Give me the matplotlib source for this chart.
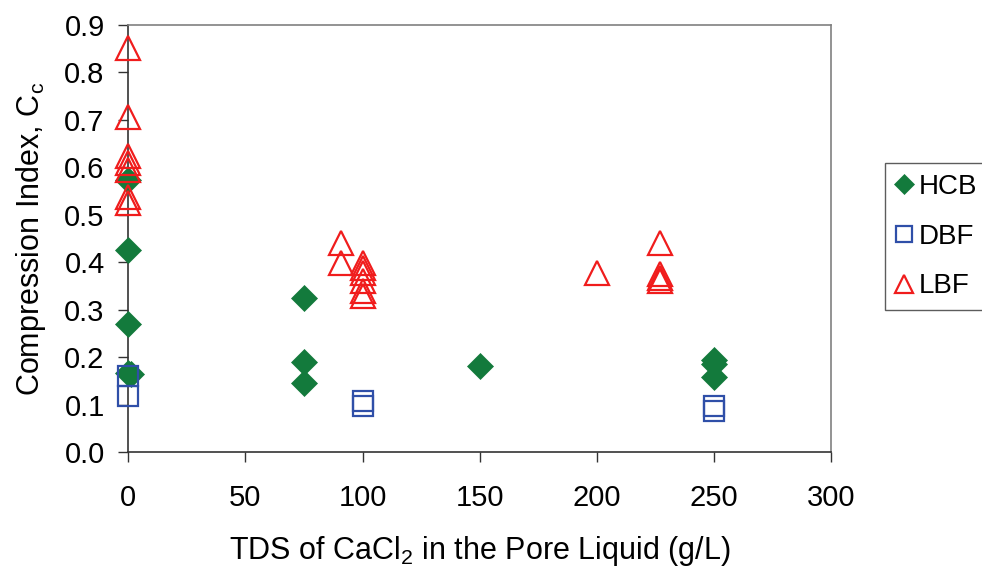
import matplotlib
matplotlib.use("Agg")
import matplotlib.pyplot as plt

plt.rcParams['font.family'] = ['Liberation Sans', 'DejaVu Sans']
plt.rcParams['mathtext.default'] = 'regular'

# HCB (filled diamonds)
hcb_x = [0, 0, 0, 0, 1, 75, 75, 75, 150, 250, 250, 250]
hcb_y = [0.574, 0.427, 0.271, 0.168, 0.165, 0.326, 0.191, 0.147, 0.181, 0.195, 0.185, 0.158]
# DBF (open squares)
dbf_x = [0, 0, 100, 100, 250, 250]
dbf_y = [0.160, 0.118, 0.108, 0.097, 0.097, 0.088]
# LBF (open triangles)
lbf_x = [0, 0, 0, 0, 0, 0, 0, 91, 91, 100, 100, 100, 100, 100, 100, 200, 227, 227, 227, 227]
lbf_y = [0.852, 0.706, 0.625, 0.610, 0.595, 0.538, 0.525, 0.440, 0.398,
         0.399, 0.389, 0.378, 0.361, 0.340, 0.330, 0.377, 0.440, 0.375, 0.368, 0.360]

x_ticks = [0, 50, 100, 150, 200, 250, 300]
y_ticks = [0.0, 0.1, 0.2, 0.3, 0.4, 0.5, 0.6, 0.7, 0.8, 0.9]

green = '#137a3c'
blue = '#2f4fa8'
red = '#f01c1c'

fig = plt.figure(figsize=(9.82, 5.72), dpi=100)
ax = fig.add_axes([128.3/982, 1-452.3/572, (831-128.3)/982, (452.3-25)/572])

ax.plot(hcb_x, hcb_y, linestyle='none', marker='D', markersize=13, color=green,
        markeredgecolor=green, markeredgewidth=0.5, label='HCB', zorder=3, clip_on=False)
ax.plot(dbf_x, dbf_y, linestyle='none', marker='s', markersize=14.5, markerfacecolor='none',
        markeredgecolor=blue, markeredgewidth=1.6, label='DBF', zorder=4, clip_on=False)
ax.plot(lbf_x, lbf_y, linestyle='none', marker='^', markersize=17, markerfacecolor='none',
        markeredgecolor=red, markeredgewidth=1.6, label='LBF', zorder=5, clip_on=False)

ax.set_xlim(0, 300)
ax.set_ylim(0, 0.9)
ax.set_xticks(x_ticks)
ax.set_yticks(y_ticks)
ax.set_yticklabels([f"{v:.1f}" for v in y_ticks])
ax.tick_params(axis='both', direction='out', length=7, width=1, labelsize=21, color='#333333')
ax.tick_params(axis='x', pad=16)
ax.tick_params(axis='y', pad=10)

for side in ['left', 'bottom']:
    ax.spines[side].set_color('#333333')
    ax.spines[side].set_linewidth(1.2)
for side in ['top', 'right']:
    ax.spines[side].set_color('#808080')
    ax.spines[side].set_linewidth(1.2)

ax.set_xlabel('TDS of CaCl$_2$ in the Pore Liquid (g/L)', fontsize=22, labelpad=16)
ax.set_ylabel('Compression Index, C$_c$', fontsize=22, labelpad=12)

leg = fig.legend(loc='upper left', bbox_to_anchor=(885/982, 1-163/572), fontsize=20,
                 frameon=True, fancybox=False, edgecolor='#333333', handlelength=0.6,
                 handletextpad=0.2, borderpad=0.4, labelspacing=0.85, borderaxespad=0,
                 markerscale=0.75)
leg.get_frame().set_linewidth(1.0)

fig.savefig('out.png', dpi=100)
